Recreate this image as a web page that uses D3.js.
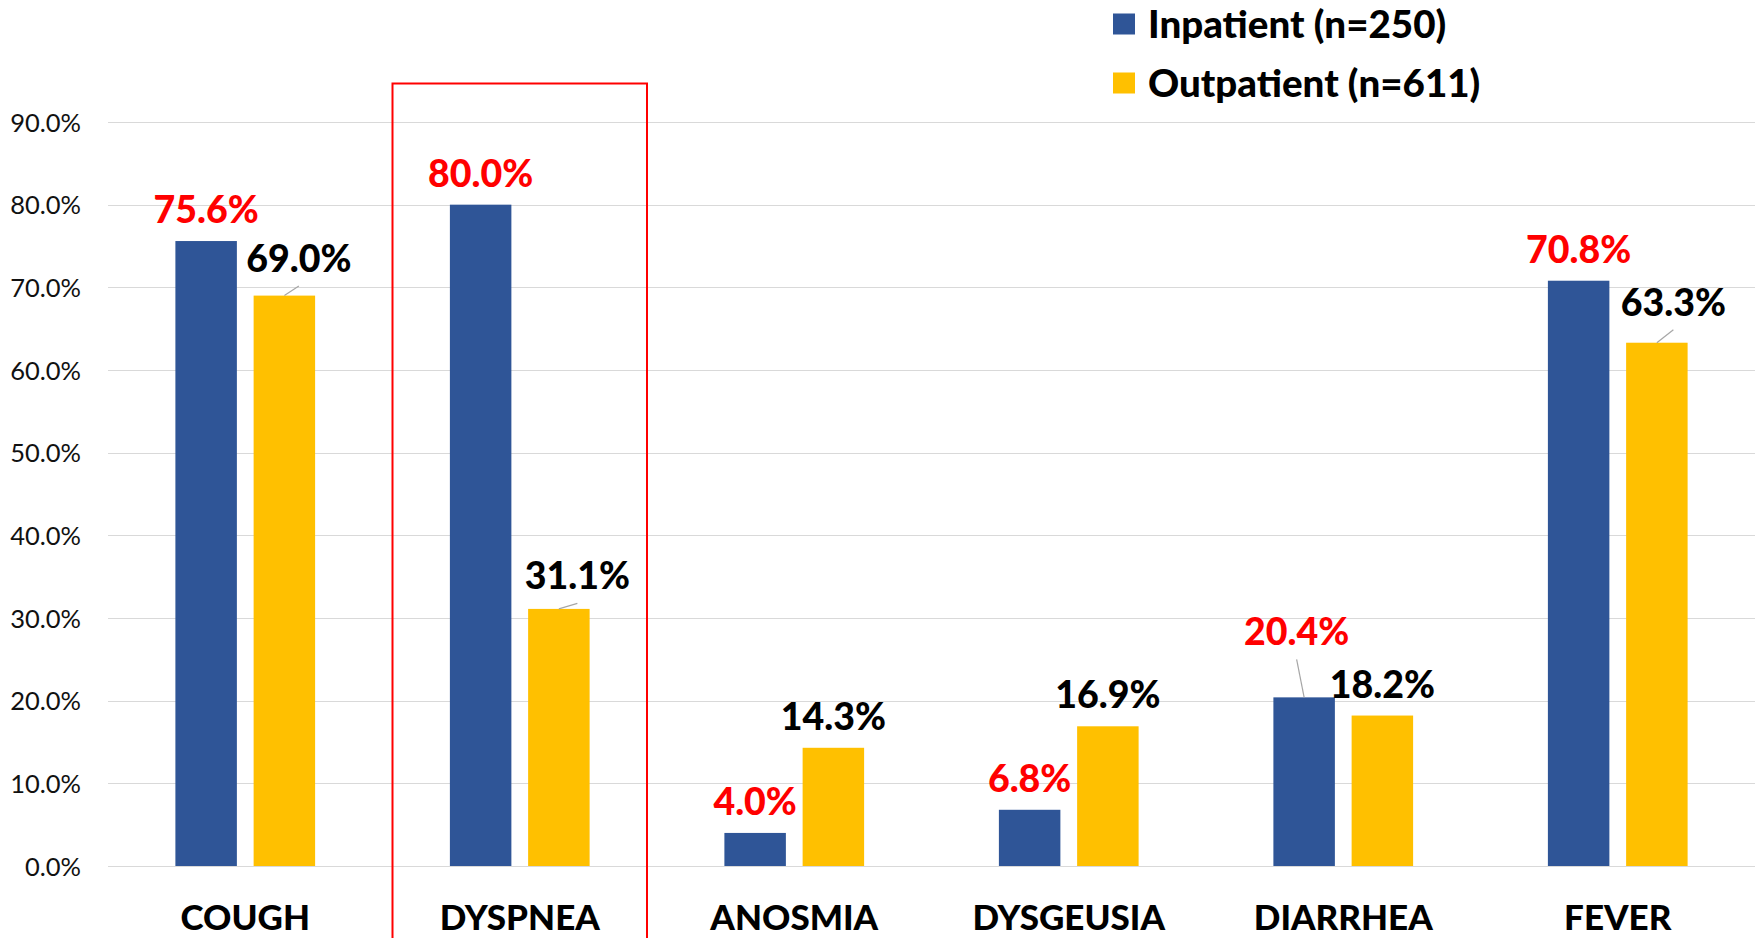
<!DOCTYPE html>
<html><head><meta charset="utf-8">
<script src="https://cdn.jsdelivr.net/npm/d3@7"></script>
<style>
html,body{margin:0;padding:0;background:#fff;}
svg{display:block;}
text{font-family:Lato,"Open Sans",sans-serif;}
</style></head>
<body>
<svg id="chart" width="1758" height="938"></svg>
<script>
const categories = ["COUGH","DYSPNEA","ANOSMIA","DYSGEUSIA","DIARRHEA","FEVER"];
const inpatient  = [75.6, 80.0, 4.0, 6.8, 20.4, 70.8];
const outpatient = [69.0, 31.1, 14.3, 16.9, 18.2, 63.3];
const seriesNames = ["Inpatient (n=250)", "Outpatient (n=611)"];
const yTicks = [0,10,20,30,40,50,60,70,80,90];
const highlighted = "DYSPNEA";

// layout / style (not data)
const colors = ["#2F5597", "#FFC000"];
const labelColors = ["#FF0000", "#000000"];
const plot = {left: 108, right: 1755, top: 122, bottom: 866};
const normalGap = 18;
// manual label displacements (dx, gap above bar top) with leader lines
const labelMoves = {
  "1-COUGH": {dx: 14.5, gap: 23.5},
  "1-DYSPNEA": {dx: 18.5, gap: 19.5},
  "1-FEVER": {dx: 16.5, gap: 27},
  "0-DIARRHEA": {dx: -7.5, gap: 52}
};

const svg = d3.select("#chart");

const x0 = d3.scaleBand().domain(categories).range([plot.left, plot.right])
  .paddingInner(0.491).paddingOuter(0.2455);
const x1 = d3.scaleBand().domain([0,1]).range([0, x0.bandwidth()]).paddingInner(0.214);
const y = d3.scaleLinear().domain([0, 90]).range([plot.bottom, plot.top]);

// gridlines
svg.append("g").selectAll("line").data(yTicks).join("line")
  .attr("x1", plot.left).attr("x2", plot.right)
  .attr("y1", d => Math.round(y(d)) + 0.5).attr("y2", d => Math.round(y(d)) + 0.5)
  .attr("stroke", "#D9D9D9").attr("stroke-width", 1);

// y axis labels
const yAxis = d3.axisLeft(y).tickValues(yTicks).tickSize(0).tickPadding(0)
  .tickFormat(d => d.toFixed(1) + "%");
const gy = svg.append("g").attr("transform", `translate(81,0)`).call(yAxis);
gy.select(".domain").remove();
gy.selectAll("text").attr("font-family", "Lato").attr("font-size", 25.5)
  .attr("fill", "#111").attr("dy", "0.36em");

// data rows: series 0 = inpatient, 1 = outpatient
const rows = categories.map((c, i) => ({cat: c, vals: [inpatient[i], outpatient[i]]}));

const groups = svg.append("g").selectAll("g").data(rows).join("g")
  .attr("transform", d => `translate(${x0(d.cat)},0)`);

groups.selectAll("rect").data(d => d.vals.map((v, s) => ({v, s, cat: d.cat}))).join("rect")
  .attr("x", d => x1(d.s)).attr("width", x1.bandwidth())
  .attr("y", d => y(d.v)).attr("height", d => y(0) - y(d.v))
  .attr("fill", d => colors[d.s]);

// value labels
const labelData = [];
rows.forEach(r => r.vals.forEach((v, s) => {
  const mv = labelMoves[s + "-" + r.cat];
  const cx = x0(r.cat) + x1(s) + x1.bandwidth() / 2;
  const top = y(v);
  labelData.push({v, s, cx, top, mv});
}));

svg.append("g").selectAll("line").data(labelData.filter(d => d.mv)).join("line")
  .attr("x1", d => d.cx + d.mv.dx).attr("y1", d => d.top - d.mv.gap + 14)
  .attr("x2", d => d.cx).attr("y2", d => d.top)
  .attr("stroke", "#A6A6A6").attr("stroke-width", 1.2);

svg.append("g").selectAll("text").data(labelData).join("text")
  .attr("x", d => d.cx + (d.mv ? d.mv.dx : 0))
  .attr("y", d => d.top - (d.mv ? d.mv.gap : normalGap))
  .attr("text-anchor", "middle")
  .attr("font-size", 37.5).attr("font-weight", 900)
  .attr("fill", d => labelColors[d.s])
  .text(d => d.v.toFixed(1) + "%");

// x axis labels
const xAxis = d3.axisBottom(x0).tickSize(0).tickPadding(0);
const gx = svg.append("g").attr("transform", `translate(0,${plot.bottom})`).call(xAxis);
gx.select(".domain").remove();
gx.selectAll("text").attr("font-family", "Lato").attr("font-size", 35).attr("font-weight", 900)
  .attr("fill", "#000").attr("dy", null).attr("y", 64);

// highlight box
const hx = x0(highlighted) - (x0.step() - x0.bandwidth()) / 2;
svg.append("rect")
  .attr("x", hx + 10).attr("y", 83.5)
  .attr("width", x0.step() - 20).attr("height", 900)
  .attr("fill", "none").attr("stroke", "#FF0000").attr("stroke-width", 2);

// legend
const lg = svg.append("g").attr("transform", "translate(1113,0)");
const li = lg.selectAll("g").data(seriesNames).join("g")
  .attr("transform", (d, i) => `translate(0,${24 + i * 59})`);
li.append("rect").attr("x", 0).attr("y", -10.5).attr("width", 22).attr("height", 21)
  .attr("fill", (d, i) => colors[i]);
li.append("text").attr("x", 35).attr("y", 0).attr("dy", "0.36em")
  .attr("font-size", 38.5).attr("font-weight", 900).attr("fill", "#000")
  .text(d => d);
</script>
</body></html>
